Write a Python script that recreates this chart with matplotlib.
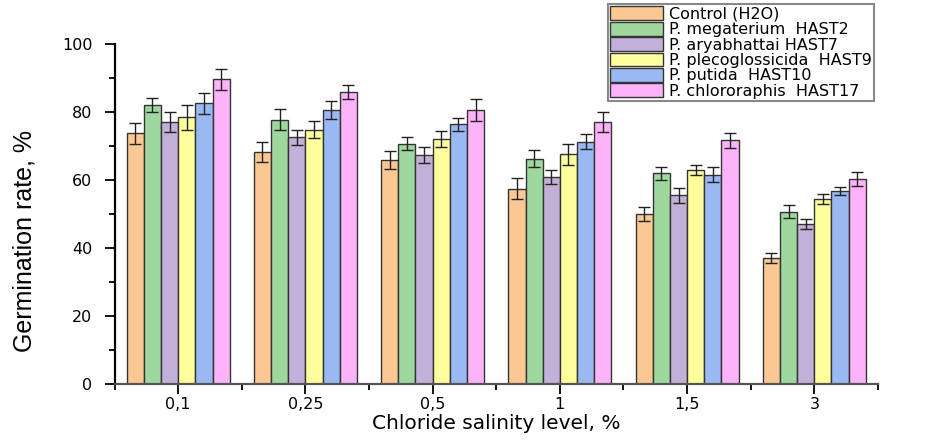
import numpy as np
import matplotlib
matplotlib.use("Agg")
import matplotlib.pyplot as plt
from matplotlib.ticker import MultipleLocator, FixedLocator

categories = ["0,1", "0,25", "0,5", "1", "1,5", "3"]
series_names = [
    "Control (H2O)",
    "P. megaterium  HAST2",
    "P. aryabhattai HAST7",
    "P. plecoglossicida  HAST9",
    "P. putida  HAST10",
    "P. chlororaphis  HAST17",
]
control = [73.7, 68.3, 65.9, 57.5, 50.0, 37.0]
megaterium = [82.1, 77.8, 70.7, 66.2, 62.0, 50.7]
aryabhattai = [77.0, 72.6, 67.3, 60.9, 55.5, 47.1]
plecoglossicida = [78.4, 74.8, 72.1, 67.6, 62.9, 54.5]
putida = [82.6, 80.5, 76.4, 71.3, 61.5, 56.8]
chlororaphis = [89.6, 85.8, 80.6, 77.0, 71.7, 60.3]

control_err = [3.2, 3.0, 2.6, 3.2, 2.1, 1.5]
megaterium_err = [2.1, 3.1, 2.0, 2.5, 1.9, 2.0]
aryabhattai_err = [3.0, 2.2, 2.4, 2.0, 2.3, 1.4]
plecoglossicida_err = [3.6, 2.5, 2.3, 3.1, 1.5, 1.5]
putida_err = [3.1, 2.6, 1.9, 2.2, 2.2, 1.3]
chlororaphis_err = [3.1, 2.1, 3.1, 3.0, 2.2, 2.1]

values = [control, megaterium, aryabhattai, plecoglossicida, putida, chlororaphis]
errors = [control_err, megaterium_err, aryabhattai_err, plecoglossicida_err, putida_err, chlororaphis_err]
colors = ["#FBC793", "#9FD89E", "#C3B0D8", "#FFFF9E", "#9AB9F2", "#FCB3F7"]

plt.rcParams["font.family"] = ["DejaVu Sans"]

fig = plt.figure(figsize=(9.43, 4.40), dpi=100)
ax = fig.add_axes([0.1215, 0.127, 0.8095, 0.773])

x = np.arange(len(categories))
width = 0.135
for i, (vals, errs, col, name) in enumerate(zip(values, errors, colors, series_names)):
    pos = x + (i - 2.5) * width
    ax.bar(pos, vals, width, color=col, edgecolor="#333333", linewidth=1.0, label=name, zorder=2)
    ax.errorbar(pos, vals, yerr=errs, fmt="none", ecolor="#222222", elinewidth=1.0,
                capsize=4.5, capthick=1.0, zorder=3)

ax.set_xlim(-0.5, 5.5)
ax.set_ylim(0, 100)
ax.set_xticks(x)
ax.set_xticklabels(categories)
ax.xaxis.set_minor_locator(FixedLocator(np.arange(-0.5, 6, 1)))
ax.yaxis.set_major_locator(MultipleLocator(20))
ax.yaxis.set_minor_locator(MultipleLocator(10))
ax.tick_params(axis="both", which="major", direction="out", length=7, width=1.3, labelsize=11.5)
ax.tick_params(axis="x", which="major", pad=2)
ax.tick_params(axis="y", which="major", pad=9)
ax.tick_params(axis="both", which="minor", direction="out", length=4, width=1.3)
ax.spines["top"].set_visible(False)
ax.spines["right"].set_visible(False)
ax.spines["left"].set_linewidth(1.6)
ax.spines["bottom"].set_linewidth(1.6)
ax.spines["bottom"].set_color("#555555")

ax.set_xlabel("Chloride salinity level, %", fontsize=14.5, labelpad=2)
ax.set_ylabel("Germination rate, %", fontsize=18, family=["Liberation Sans", "DejaVu Sans"])
ax.yaxis.set_label_coords(-0.102, 0.42)

leg = fig.legend(loc="upper left", bbox_to_anchor=(608 / 943, 1 - 4 / 440), fontsize=11.5,
                 handlelength=3.3, handleheight=0.95, handletextpad=0.35, labelspacing=0.0,
                 borderpad=0.15, borderaxespad=0, fancybox=False, framealpha=1, edgecolor="#888888")
leg.get_frame().set_linewidth(1.5)

fig.savefig("out.png", dpi=100)
